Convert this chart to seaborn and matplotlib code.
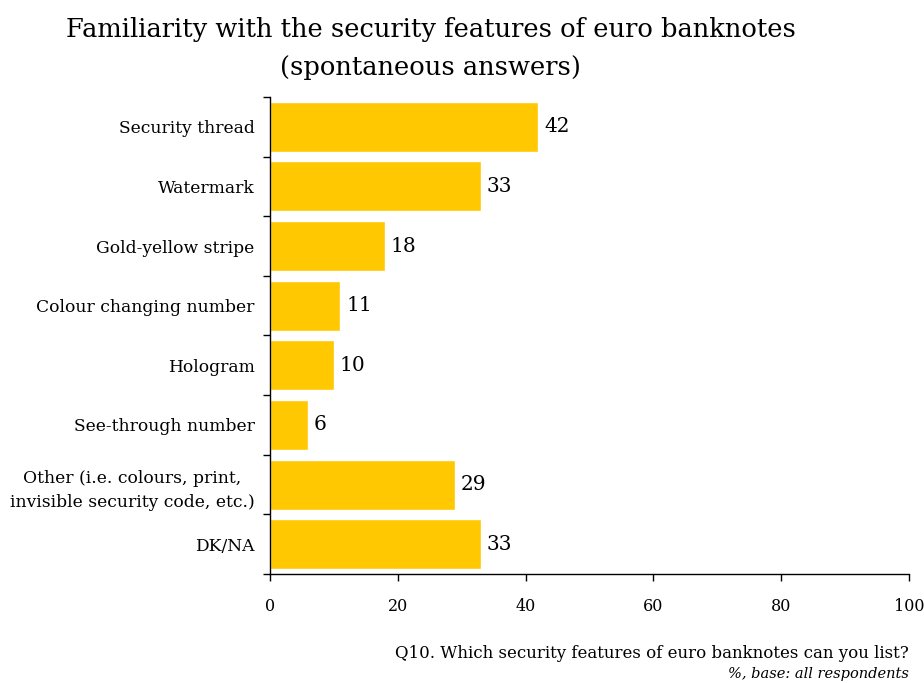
import matplotlib
matplotlib.use("Agg")
import matplotlib.pyplot as plt
import seaborn as sns
import pandas as pd
import numpy as np

categories = ["Security thread", "Watermark", "Gold-yellow stripe", "Colour changing number",
              "Hologram", "See-through number",
              "Other (i.e. colours, print,\ninvisible security code, etc.)", "DK/NA"]
values = [42, 33, 18, 11, 10, 6, 29, 33]
xticks = [0, 20, 40, 60, 80, 100]

sns.set_theme(style="white")
plt.rcParams['font.family'] = ['DejaVu Serif']
plt.rcParams['text.color'] = 'black'
plt.rcParams['xtick.color'] = 'black'
plt.rcParams['ytick.color'] = 'black'

df = pd.DataFrame({"cat": categories, "val": values})

fig = plt.figure(figsize=(9.24, 6.83), dpi=100)
ax = fig.add_axes([0.2922, 0.1596, 0.9838 - 0.2922, 0.858 - 0.1596])
sns.barplot(data=df, x="val", y="cat", orient="h", color="#FFC800", saturation=1,
            width=0.84, ax=ax)

ax.set_xlim(0, 100)
ax.set_ylim(len(categories) - 0.5, -0.5)
ax.set_xticks(xticks)
ax.set_xticklabels([str(t) for t in xticks], fontsize=11.5)
ax.tick_params(axis="x", bottom=True, direction="out", length=5, width=1, color="black", pad=12,
               labelcolor="black")
ax.tick_params(axis="y", which="major", length=0, pad=11, labelsize=12.3, labelcolor="black")
ax.set_yticks(np.arange(-0.5, len(categories), 1), minor=True)
ax.tick_params(axis="y", which="minor", direction="out", length=5, width=1, color="black", left=True)
for lbl in ax.get_yticklabels():
    lbl.set_multialignment("center")
    lbl.set_linespacing(1.55)
ax.set_xlabel("")
ax.set_ylabel("")
for s in ["top", "right"]:
    ax.spines[s].set_visible(False)
for s in ["left", "bottom"]:
    ax.spines[s].set_color("black")
    ax.spines[s].set_linewidth(1)

for i, v in enumerate(values):
    ax.text(v + 0.9, i, str(v), va="center", ha="left", fontsize=14.5, color="black")

fig.text(0.466, 1 - 30 / 683, "Familiarity with the security features of euro banknotes",
         ha="center", va="center", fontsize=18.5)
fig.text(0.466, 1 - 68 / 683, "(spontaneous answers)",
         ha="center", va="center", fontsize=18.5)
fig.text(0.984, 1 - 654 / 683, "Q10. Which security features of euro banknotes can you list?",
         ha="right", va="center", fontsize=12)
fig.text(0.984, 1 - 674 / 683, "%, base: all respondents", ha="right", va="center", fontsize=10.5,
         style="italic")

fig.savefig("out.png", dpi=100)
